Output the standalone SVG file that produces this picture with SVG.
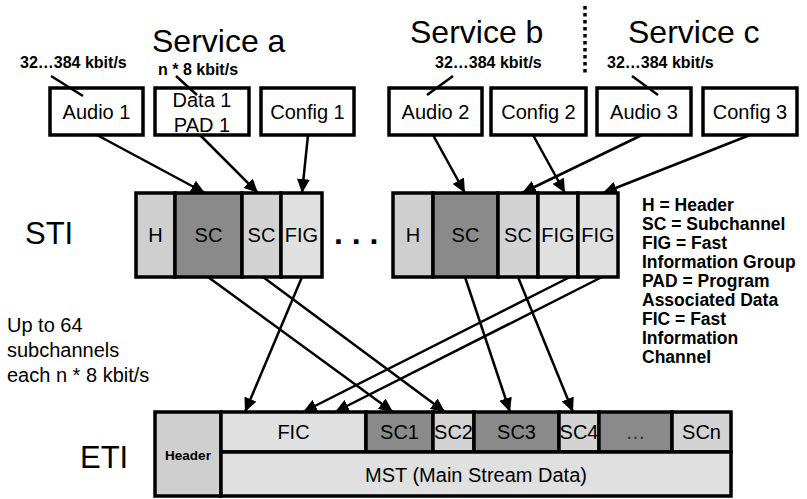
<svg xmlns="http://www.w3.org/2000/svg" width="807" height="499" viewBox="0 0 807 499">
<defs>
<marker id="arr" markerUnits="userSpaceOnUse" markerWidth="15" markerHeight="13" refX="14" refY="6.5" orient="auto">
<path d="M0,0 L14,6.5 L0,13 z" fill="#000"/>
</marker>
<style>
text{font-family:"Liberation Sans",Arial,sans-serif;fill:#000}
.box{fill:#fff;stroke:#000;stroke-width:3.5}
.cell{stroke:#000;stroke-width:3.5}
.h{fill:#cfcfcf}
.dk{fill:#8a8a8a}
.lt{fill:#d3d3d3}
.fg{fill:#e0e0e0}
.big{font-size:32px}
.lbl{font-size:20px;text-anchor:middle}
.rate{font-size:16px;font-weight:bold}
.leg{font-size:17.5px;font-weight:bold}
.conn line{stroke:#000;stroke-width:2.5}
.arrow{marker-end:url(#arr)}
</style>
</defs>
<rect width="807" height="499" fill="#fff"/>

<g id="titles">
<text class="big" x="152" y="52">Service a</text>
<text class="big" x="410" y="43">Service b</text>
<text class="big" x="628" y="43">Service c</text>
<line x1="585" y1="6" x2="585" y2="74" stroke="#000" stroke-width="3.5" stroke-dasharray="3.5 3.5"/>
<text class="rate" x="20" y="68">32…384 kbit/s</text>
<text class="rate" x="158" y="75">n * 8 kbit/s</text>
<text class="rate" x="435" y="68">32…384 kbit/s</text>
<text class="rate" x="607" y="68">32…384 kbit/s</text>
<text class="big" x="25" y="244" style="font-size:31px">STI</text>
<text class="big" x="80" y="468" style="font-size:31px">ETI</text>
<text class="big" x="334" y="244" style="font-weight:bold">. . .</text>
<text style="font-size:20px" x="7" y="332">Up to 64</text>
<text style="font-size:20px" x="7" y="357">subchannels</text>
<text style="font-size:20px" x="7" y="382">each n * 8 kbit/s</text>
</g>

<g id="legend">
<text class="leg" x="642" y="211">H = Header</text>
<text class="leg" x="642" y="230">SC = Subchannel</text>
<text class="leg" x="642" y="249">FIG = Fast</text>
<text class="leg" x="642" y="268">Information Group</text>
<text class="leg" x="642" y="287">PAD = Program</text>
<text class="leg" x="642" y="306">Associated Data</text>
<text class="leg" x="642" y="325">FIC = Fast</text>
<text class="leg" x="642" y="344">Information</text>
<text class="leg" x="642" y="363">Channel</text>
</g>

<g id="audio1"><rect class="box" x="50" y="88" width="93" height="47"/><text class="lbl" x="96.5" y="119">Audio 1</text></g>
<g id="data1"><rect class="box" x="155" y="88" width="94" height="47"/><text class="lbl" x="202" y="107">Data 1</text><text class="lbl" x="202" y="132">PAD 1</text></g>
<g id="config1"><rect class="box" x="261" y="88" width="93" height="47"/><text class="lbl" x="307.5" y="119">Config 1</text></g>
<g id="audio2"><rect class="box" x="389" y="88" width="93" height="47"/><text class="lbl" x="435.5" y="119">Audio 2</text></g>
<g id="config2"><rect class="box" x="491" y="88" width="95" height="47"/><text class="lbl" x="538.5" y="119">Config 2</text></g>
<g id="audio3"><rect class="box" x="597" y="88" width="94" height="47"/><text class="lbl" x="644" y="119">Audio 3</text></g>
<g id="config3"><rect class="box" x="703" y="88" width="94" height="47"/><text class="lbl" x="750" y="119">Config 3</text></g>

<g id="sti1">
<rect class="cell h" x="136" y="193" width="39" height="84"/>
<rect class="cell dk" x="175" y="193" width="67" height="84"/>
<rect class="cell lt" x="242" y="193" width="39" height="84"/>
<rect class="cell fg" x="281" y="193" width="41" height="84"/>
<text class="lbl" x="155.5" y="242">H</text>
<text class="lbl" x="208.5" y="242">SC</text>
<text class="lbl" x="261.5" y="242">SC</text>
<text class="lbl" x="301.5" y="242">FIG</text>
</g>

<g id="sti2">
<rect class="cell h" x="393" y="193" width="40" height="84"/>
<rect class="cell dk" x="433" y="193" width="65" height="84"/>
<rect class="cell lt" x="498" y="193" width="40" height="84"/>
<rect class="cell fg" x="538" y="193" width="40" height="84"/>
<rect class="cell fg" x="578" y="193" width="40" height="84"/>
<text class="lbl" x="413" y="242">H</text>
<text class="lbl" x="465.5" y="242">SC</text>
<text class="lbl" x="518" y="242">SC</text>
<text class="lbl" x="558" y="242">FIG</text>
<text class="lbl" x="598" y="242">FIG</text>
</g>

<g id="eti">
<rect class="cell h" x="155" y="412" width="66" height="84"/>
<rect class="cell fg" x="221" y="412" width="145" height="40"/>
<rect class="cell dk" x="366" y="412" width="67" height="40"/>
<rect class="cell lt" x="433" y="412" width="41" height="40"/>
<rect class="cell dk" x="474" y="412" width="85" height="40"/>
<rect class="cell lt" x="559" y="412" width="40" height="40"/>
<rect class="cell dk" x="599" y="412" width="73" height="40"/>
<rect class="cell lt" x="672" y="412" width="59" height="40"/>
<rect class="cell fg" x="221" y="452" width="510" height="44"/>
<text x="188" y="460" style="font-size:13.5px;font-weight:bold;text-anchor:middle">Header</text>
<text class="lbl" x="293.5" y="439">FIC</text>
<text class="lbl" x="399.5" y="439">SC1</text>
<text class="lbl" x="453.5" y="439">SC2</text>
<text class="lbl" x="516.5" y="439">SC3</text>
<text class="lbl" x="579" y="439">SC4</text>
<text class="lbl" x="635.5" y="439" style="fill:#333">…</text>
<text class="lbl" x="701.5" y="439">SCn</text>
<text class="lbl" x="476" y="482">MST (Main Stream Data)</text>
</g>

<g id="connectors" class="conn">
<line x1="51" y1="76" x2="83" y2="96"/>
<line x1="176" y1="76" x2="197" y2="95"/>
<line x1="453" y1="76" x2="427" y2="95"/>
<line x1="632" y1="76" x2="658" y2="95"/>
<line class="arrow" x1="97" y1="135" x2="205" y2="193"/>
<line class="arrow" x1="200" y1="135" x2="258" y2="193"/>
<line class="arrow" x1="308" y1="135" x2="302" y2="193"/>
<line class="arrow" x1="433" y1="135" x2="465" y2="193"/>
<line class="arrow" x1="533" y1="135" x2="565" y2="193"/>
<line class="arrow" x1="642" y1="135" x2="522" y2="193"/>
<line class="arrow" x1="750" y1="135" x2="603" y2="193"/>
<line class="arrow" x1="208" y1="277" x2="393" y2="412"/>
<line class="arrow" x1="263" y1="277" x2="445" y2="412"/>
<line class="arrow" x1="302" y1="277" x2="245" y2="412"/>
<line class="arrow" x1="465" y1="277" x2="510" y2="412"/>
<line class="arrow" x1="518" y1="277" x2="573" y2="412"/>
<line class="arrow" x1="570" y1="277" x2="303" y2="412"/>
<line class="arrow" x1="602" y1="277" x2="335" y2="412"/>
</g>
</svg>
